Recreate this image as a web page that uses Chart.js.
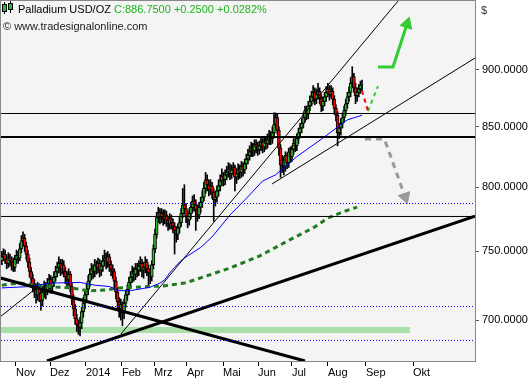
<!DOCTYPE html>
<html>
<head>
<meta charset="utf-8">
<script src="https://cdn.jsdelivr.net/npm/chart.js@4.4.1/dist/chart.umd.min.js"></script>
<style>
  html, body { margin: 0; padding: 0; background: #fff; }
  canvas { display: block; }
</style>
</head>
<body>
<canvas id="palladiumChart" width="530" height="380"></canvas>
<script>
// daily candles, late Oct 2013 .. end Aug 2014, x = trading day index
const openP = [
  743, 746, 748, 744, 741, 745, 743, 742, 738, 744,
  747, 745, 752, 758, 760, 754, 748, 742, 735, 730,
  726, 722, 718, 723, 719, 714, 720, 724, 721, 726,
  729, 724, 727, 731, 735, 738, 741, 737, 740, 735,
  731, 729, 733, 724, 715, 708, 701, 697, 695, 698,
  706, 712, 718, 722, 728, 733, 737, 735, 740, 738,
  741, 736, 739, 743, 745, 742, 746, 740, 737, 735,
  728, 720, 713, 708, 711, 705, 712, 718, 722, 727,
  731, 735, 733, 737, 736, 739, 741, 736, 738, 742,
  737, 734, 731, 740, 752, 763, 776, 780, 776, 779,
  775, 778, 774, 771, 775, 772, 769, 766, 763, 768,
  772, 779, 786, 783, 777, 774, 779, 784, 789, 786,
  782, 778, 784, 788, 792, 799, 806, 802, 798, 801,
  796, 790, 792, 797, 801, 805, 809, 806, 810, 812,
  815, 811, 814, 816, 808, 811, 815, 812, 817, 814,
  819, 823, 826, 829, 832, 830, 835, 833, 831, 834,
  837, 833, 838, 836, 839, 842, 840, 845, 852, 858,
  847, 832, 818, 822, 817, 826, 820, 829, 825, 831,
  836, 834, 840, 845, 849, 853, 858, 864, 861, 868,
  872, 876, 880, 874, 878, 881, 875, 868, 872, 876,
  880, 883, 878, 881, 874, 866, 860, 845, 849, 853,
  858, 864, 870, 876, 880, 888, 894, 884, 877, 880,
  883, 886.5
];
const highP = [
  750, 752, 751, 747, 749, 748, 746, 745, 747, 751,
  750, 756, 762, 765, 763, 757, 751, 745, 738, 733,
  729, 726, 727, 726, 722, 724, 728, 727, 730, 733,
  732, 731, 735, 739, 742, 746, 744, 744, 743, 738,
  735, 737, 735, 727, 718, 711, 704, 700, 702, 709,
  716, 721, 726, 732, 737, 741, 740, 744, 743, 745,
  744, 743, 747, 751, 749, 750, 748, 743, 740, 737,
  731, 723, 716, 715, 713, 715, 721, 725, 731, 735,
  739, 738, 741, 741, 743, 746, 744, 742, 746, 744,
  740, 737, 743, 755, 767, 780, 784, 783, 783, 782,
  782, 781, 777, 779, 778, 775, 772, 769, 771, 776,
  783, 799, 802, 787, 781, 783, 788, 793, 794, 790,
  786, 788, 792, 797, 804, 812, 810, 806, 806, 804,
  799, 797, 801, 806, 810, 815, 812, 814, 817, 820,
  819, 818, 820, 818, 815, 819, 818, 821, 820, 823,
  827, 831, 834, 837, 836, 839, 839, 837, 838, 842,
  840, 842, 841, 844, 847, 846, 850, 862, 862, 861,
  850, 835, 826, 825, 829, 828, 832, 833, 834, 840,
  840, 844, 849, 853, 857, 862, 868, 868, 872, 877,
  881, 886, 884, 883, 888, 884, 878, 876, 880, 885,
  888, 886, 886, 884, 877, 869, 863, 853, 857, 862,
  868, 874, 880, 885, 893, 903, 897, 888, 884, 887,
  890, 891
];
const lowP = [
  740, 743, 741, 737, 738, 739, 736, 735, 735, 741,
  741, 743, 749, 754, 750, 744, 738, 731, 725, 720,
  716, 712, 714, 713, 707, 710, 716, 715, 718, 722,
  719, 720, 724, 728, 731, 734, 732, 733, 731, 726,
  724, 725, 720, 711, 703, 697, 692, 690, 689, 694,
  702, 708, 714, 718, 724, 729, 730, 731, 733, 734,
  731, 732, 735, 739, 737, 738, 735, 732, 730, 723,
  715, 708, 702, 700, 696, 701, 709, 714, 718, 723,
  727, 728, 729, 731, 732, 735, 731, 730, 734, 732,
  724, 726, 728, 737, 749, 760, 772, 771, 772, 770,
  771, 769, 766, 767, 767, 764, 748, 757, 759, 764,
  769, 776, 779, 772, 768, 770, 775, 780, 781, 766,
  773, 775, 780, 784, 789, 795, 797, 793, 794, 791,
  773, 785, 788, 793, 797, 801, 801, 802, 806, 808,
  806, 807, 810, 797, 803, 806, 807, 808, 809, 811,
  815, 819, 822, 825, 825, 826, 828, 826, 827, 830,
  828, 829, 831, 832, 835, 835, 836, 842, 848, 844,
  826, 808, 812, 810, 813, 815, 816, 820, 821, 827,
  829, 830, 836, 841, 845, 849, 854, 856, 857, 864,
  868, 872, 869, 870, 874, 870, 863, 864, 868, 872,
  876, 873, 875, 869, 861, 855, 834, 840, 843, 849,
  854, 860, 866, 872, 876, 884, 880, 870, 872, 876,
  879, 881
];
const closeP = [
  746, 748, 744, 741, 745, 743, 742, 738, 744, 747,
  745, 752, 758, 760, 754, 748, 742, 735, 730, 726,
  722, 718, 723, 719, 714, 720, 724, 721, 726, 729,
  724, 727, 731, 735, 738, 741, 737, 740, 735, 731,
  729, 733, 724, 715, 708, 701, 697, 695, 698, 706,
  712, 718, 722, 728, 733, 737, 735, 740, 738, 741,
  736, 739, 743, 745, 742, 746, 740, 737, 735, 728,
  720, 713, 708, 711, 705, 712, 718, 722, 727, 731,
  735, 733, 737, 736, 739, 741, 736, 738, 742, 737,
  734, 731, 740, 752, 763, 776, 780, 776, 779, 775,
  778, 774, 771, 775, 772, 769, 766, 763, 768, 772,
  779, 786, 783, 777, 774, 779, 784, 789, 786, 782,
  778, 784, 788, 792, 799, 806, 802, 798, 801, 796,
  790, 792, 797, 801, 805, 809, 806, 810, 812, 815,
  811, 814, 816, 808, 811, 815, 812, 817, 814, 819,
  823, 826, 829, 832, 830, 835, 833, 831, 834, 837,
  833, 838, 836, 839, 842, 840, 845, 852, 858, 847,
  832, 818, 822, 817, 826, 820, 829, 825, 831, 836,
  834, 840, 845, 849, 853, 858, 864, 861, 868, 872,
  876, 880, 874, 878, 881, 875, 868, 872, 876, 880,
  883, 878, 881, 874, 866, 860, 845, 849, 853, 858,
  864, 870, 876, 880, 888, 894, 884, 877, 880, 883,
  886.5, 886.75
];

// moving averages (sampled)
const blueMaX = [0, 17, 30, 48, 57, 66, 72, 79, 91, 97, 100, 103, 106, 109, 112, 122, 129, 140, 150, 160, 168, 181, 197, 212, 221];
const blueMaY = [723, 724, 726.5, 727, 725, 724, 721, 721, 723.5, 726.5, 729, 734, 738, 742, 745, 753, 761, 778, 791, 805, 810, 825, 840.5, 856, 860];
const greenMaX = [0, 11, 22, 33, 43, 53, 64, 72, 85, 99, 112, 122, 140, 158, 180, 191, 200, 209, 218];
const greenMaY = [725, 726.5, 725, 723.7, 723, 720.8, 721.5, 723, 723.7, 724.4, 726.5, 730.3, 737.6, 746.5, 761, 767.9, 775.6, 780.3, 784.2];

// axis ticks
const monthLabels = ['Nov', 'Dez', '2014', 'Feb', 'Mrz', 'Apr', 'Mai', 'Jun', 'Jul', 'Aug', 'Sep', 'Okt'];
const monthPos = [8.7, 29.6, 51.6, 73.7, 93.4, 113.6, 135.7, 157.2, 178, 200.1, 223.4, 252.3];
const priceTicks = [700, 750, 800, 850, 900];

// drawn levels and trend lines (index, price)
const levelThin = [861.5, 776.8];
const levelThick = [841.4];
const levelDotted = [787.0, 709.6, 685.8];
const supportBand = [[-0.5, 693.1], [250.4, 693.1]];
const trendThick = [
  [[27.7, 671.8], [290.3, 777.1]],
  [[-1.1, 730.3], [186, 671.8]]
];
const trendThin = [
  [[73.1, 690.3], [243.1, 964.6]],
  [[-1.1, 702.2], [19.7, 721.5]],
  [[165.8, 802.6], [290.3, 910.9]]
];
const pathRed = [[221, 881.2], [224.7, 863.6]];
const pathGreenDash = [[224.7, 863.6], [230.8, 885.6]];
const pathGreenUp = [[230.8, 902.7], [240, 902.7], [248.6, 942.6]];
const pathGreyDown = [[222.8, 839.7], [234.5, 839.7], [236.3, 833.8], [247.4, 792.2]];

const xMin = -0.5, xMax = 290.3;

const idx = closeP.map((_, i) => i);
const wicks = idx.map(i => ({ x: i, y: [lowP[i], highP[i]] }));
const bodies = idx.map(i => ({ x: i, y: [openP[i], closeP[i]] }));
const bodyColors = idx.map(i => closeP[i] >= openP[i] ? '#2cb82c' : '#ff0000');

function seg(pts, color, width, dash, order) {
  return {
    type: 'line',
    data: pts.map(p => ({ x: p[0], y: p[1] })),
    borderColor: color,
    borderWidth: width,
    borderDash: dash || [],
    pointRadius: 0,
    fill: false,
    tension: 0,
    order: order === undefined ? 0 : order
  };
}

function arrow(pts, color, width, dash, angle) {
  const ds = seg(pts, color, width, dash, 0);
  ds.pointRadius = pts.map((_, i) => i === pts.length - 1 ? 7 : 0);
  ds.pointStyle = 'triangle';
  ds.rotation = angle;
  ds.pointBackgroundColor = color;
  ds.pointBorderColor = color;
  ds.pointBorderWidth = 1;
  return ds;
}

const datasets = [];
levelThin.forEach(v => datasets.push(seg([[xMin, v], [xMax, v]], '#000', 1)));
levelThick.forEach(v => datasets.push(seg([[xMin, v], [xMax, v]], '#000', 2)));
levelDotted.forEach(v => datasets.push(seg([[xMin, v], [xMax, v]], '#0000ff', 1, [1, 2])));
trendThick.forEach(t => datasets.push(seg(t, '#000', 3)));
trendThin.forEach(t => datasets.push(seg(t, '#000', 1)));
datasets.push(seg(blueMaX.map((x, i) => [x, blueMaY[i]]), '#0000ff', 1));
datasets.push(seg(greenMaX.map((x, i) => [x, greenMaY[i]]), '#1e7b1e', 3, [5, 4]));
datasets.push(seg(pathRed, '#ff0000', 2, [4, 4]));
datasets.push(seg(pathGreenDash, '#33cc33', 2, [4, 4]));
datasets.push(arrow(pathGreenUp, '#33cc33', 3, [], 18));
datasets.push(arrow(pathGreyDown, '#999999', 3, [6, 5], 161));
datasets.push(seg(supportBand, '#a9dfa9', 6, [], 3));
datasets.push({
  type: 'bar', data: bodies, backgroundColor: bodyColors,
  borderColor: '#000', borderWidth: 1, borderSkipped: false,
  barThickness: 3, grouped: false, order: 1
});
datasets.push({
  type: 'bar', data: wicks, backgroundColor: '#000',
  borderWidth: 0, barThickness: 1, grouped: false, order: 2
});

const frame = {
  id: 'frame',
  beforeDraw(chart) {
    const { ctx, chartArea: a } = chart;
    ctx.save();
    ctx.fillStyle = '#fff';
    ctx.fillRect(0, 0, chart.width, chart.height);
    ctx.fillStyle = '#f4f4f4';
    ctx.fillRect(a.left, a.top, a.right - a.left, a.bottom - a.top);
    ctx.restore();
  },
  afterDraw(chart) {
    const { ctx, chartArea: a } = chart;
    ctx.save();
    ctx.strokeStyle = '#888';
    ctx.lineWidth = 1;
    ctx.strokeRect(0.5, 0.5, a.right, a.bottom);

    // little candle icon
    ctx.fillStyle = '#000';
    ctx.fillRect(4, 2, 1, 12);
    ctx.fillRect(10, 1, 1, 12);
    ctx.fillRect(2, 4, 5, 8);
    ctx.fillRect(8, 3, 5, 7);
    ctx.fillStyle = '#2cb82c';
    ctx.fillRect(3, 5, 3, 6);
    ctx.fillRect(9, 4, 3, 5);

    ctx.font = '11px "Liberation Sans", Arial, sans-serif';
    ctx.textBaseline = 'alphabetic';
    ctx.fillStyle = '#000';
    const t1 = 'Palladium USD/OZ ';
    ctx.fillText(t1, 18, 13);
    const w = ctx.measureText(t1).width;
    ctx.fillStyle = '#1db31d';
    ctx.fillText('C:886.7500 +0.2500 +0.0282%', 18 + w, 13);
    ctx.fillStyle = '#222';
    ctx.fillText('\u00a9 www.tradesignalonline.com', 3, 30);
    ctx.fillStyle = '#333';
    ctx.fillText('$', 481, 14);
    ctx.restore();
  }
};

new Chart(document.getElementById('palladiumChart'), {
  type: 'bar',
  data: { datasets: datasets },
  options: {
    responsive: false,
    animation: false,
    layout: { autoPadding: false, padding: { left: 1, top: 1, right: 0, bottom: 0 } },
    plugins: { legend: { display: false }, tooltip: { enabled: false } },
    scales: {
      x: {
        type: 'linear',
        min: xMin,
        max: xMax,
        offset: false,
        afterBuildTicks: scale => { scale.ticks = monthPos.map(v => ({ value: v })); },
        afterFit: scale => { scale.height = 19; scale.paddingLeft = 0; scale.paddingRight = 0; },
        grid: { offset: false, drawOnChartArea: false, drawTicks: true, tickLength: 5, color: '#000' },
        border: { display: false },
        ticks: {
          autoSkip: false, maxRotation: 0, align: 'start', padding: 0,
          color: '#000', font: { family: '"Liberation Sans", Arial', size: 11 },
          callback: (v, i) => monthLabels[i]
        }
      },
      y: {
        type: 'logarithmic',
        position: 'right',
        min: 671.8,
        max: 964.6,
        afterBuildTicks: scale => { scale.ticks = priceTicks.map(v => ({ value: v })); },
        afterFit: scale => { scale.width = 55; scale.paddingTop = 0; scale.paddingBottom = 0; },
        grid: { drawOnChartArea: false, drawTicks: true, tickLength: 4, color: '#555' },
        border: { display: false },
        ticks: {
          autoSkip: false, padding: 3,
          color: '#000', font: { family: '"Liberation Sans", Arial', size: 11 },
          callback: v => Number(v).toFixed(4)
        }
      }
    }
  },
  plugins: [frame]
});
</script>
</body>
</html>
